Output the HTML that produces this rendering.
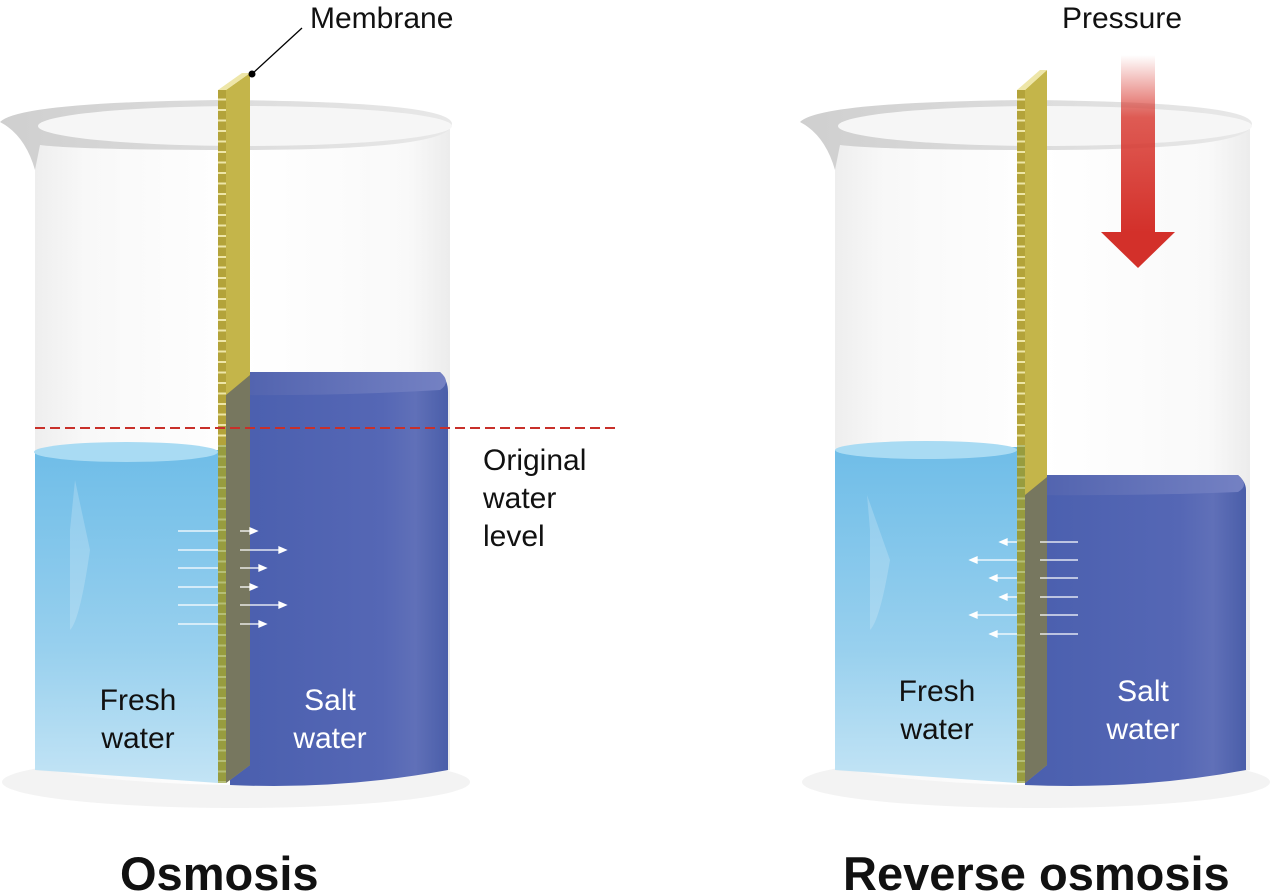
<!DOCTYPE html>
<html><head><meta charset="utf-8"><style>
html,body{margin:0;padding:0;background:#fff;}
svg{display:block;}
text{font-family:"Liberation Sans",sans-serif;}
</style></head><body>
<svg width="1280" height="893" viewBox="0 0 1280 893" xmlns="http://www.w3.org/2000/svg">
<defs>
<linearGradient id="glass" x1="0" x2="1">
<stop offset="0" stop-color="#eeeeee"/><stop offset="0.12" stop-color="#f8f8f8"/><stop offset="0.5" stop-color="#fff"/><stop offset="0.9" stop-color="#f9f9f9"/><stop offset="1" stop-color="#ececec"/>
</linearGradient>
<linearGradient id="rim" x1="0" x2="1">
<stop offset="0" stop-color="#cfcfcf"/><stop offset="0.5" stop-color="#dcdcdc"/><stop offset="1" stop-color="#e8e8e8"/>
</linearGradient>
<linearGradient id="fresh" x1="0" y1="0" x2="0" y2="1">
<stop offset="0" stop-color="#6fbde8"/><stop offset="0.6" stop-color="#98d0ee"/><stop offset="1" stop-color="#c3e4f5"/>
</linearGradient>
<linearGradient id="salt" x1="0" x2="1">
<stop offset="0" stop-color="#4a5fae"/><stop offset="0.7" stop-color="#5567b5"/><stop offset="0.85" stop-color="#6070b8"/><stop offset="1" stop-color="#4a5ea9"/>
</linearGradient>
<linearGradient id="saltTop" x1="0" x2="1">
<stop offset="0" stop-color="#4f61ad"/><stop offset="1" stop-color="#7481c3"/>
</linearGradient>
<linearGradient id="press" x1="0" y1="0" x2="0" y2="1">
<stop offset="0" stop-color="#d8342b" stop-opacity="0"/><stop offset="0.35" stop-color="#d8342b" stop-opacity="0.8"/><stop offset="1" stop-color="#d3302a"/>
</linearGradient>
<pattern id="dash" width="8" height="10.5" patternUnits="userSpaceOnUse">
<rect width="8" height="10.5" fill="#b3a33a"/><rect x="0" y="4" width="8" height="2" fill="#eee6a8"/>
</pattern>
</defs>

<!-- LEFT BEAKER -->
<g>
<ellipse cx="236" cy="782" rx="234" ry="26" fill="#f3f3f3"/>
<path d="M35 140 L35 770 Q240 800 450 770 L450 125 Z" fill="url(#glass)"/>
<path d="M0 122 Q20 102 226 100 Q452 102 452 124 Q452 150 240 150 Q80 150 40 145 L35 170 Q25 135 0 122 Z" fill="url(#rim)"/>
<ellipse cx="245" cy="126" rx="207" ry="20" fill="#f6f6f6"/>
<path d="M35 453 L218 450 L218 783 L35 770 Z" fill="url(#fresh)"/>
<ellipse cx="126" cy="452" rx="92" ry="10" fill="#a9dbf3"/>
<path d="M70 530 L75 480 L90 550 Q80 620 70 630 Z" fill="#fff" opacity="0.2"/>
<path d="M248 372 L440 372 Q448 380 448 392 L448 770 Q340 790 230 785 L230 395 Z" fill="url(#salt)"/>
<path d="M248 372 L440 372 Q452 382 440 390 Q340 396 230 395 Z" fill="url(#saltTop)"/>
<path d="M226 90 L250 73 L250 765 L226 783 Z" fill="#c4b54a"/>
<path d="M226 395 L250 375 L250 765 L226 783 Z" fill="#77775f"/>
<rect x="218" y="90" width="8" height="693" fill="url(#dash)"/>
<rect x="218" y="445" width="8" height="338" fill="#7b9544" opacity="0.5"/>
<path d="M218 90 L242 73 L250 73 L226 90 Z" fill="#eee6a8"/>
<line x1="252" y1="74" x2="302" y2="28" stroke="#000" stroke-width="1.3"/>
<circle cx="252" cy="74" r="3.5" fill="#000"/>
<g stroke="#fff" stroke-width="1.3" fill="#fff">
<line x1="178" y1="531" x2="218" y2="531"/><line x1="178" y1="550" x2="218" y2="550"/><line x1="178" y1="568" x2="218" y2="568"/>
<line x1="178" y1="587" x2="218" y2="587"/><line x1="178" y1="605" x2="218" y2="605"/><line x1="178" y1="624" x2="218" y2="624"/>
<line x1="240" y1="531" x2="252" y2="531"/><path d="M250 528 L257 531 L250 534Z"/>
<line x1="240" y1="550" x2="280" y2="550"/><path d="M279 547 L286 550 L279 553Z"/>
<line x1="240" y1="568" x2="262" y2="568"/><path d="M259 565 L266 568 L259 571Z"/>
<line x1="240" y1="587" x2="252" y2="587"/><path d="M250 584 L257 587 L250 590Z"/>
<line x1="240" y1="605" x2="280" y2="605"/><path d="M279 602 L286 605 L279 608Z"/>
<line x1="240" y1="624" x2="262" y2="624"/><path d="M259 621 L266 624 L259 627Z"/>
</g>
<line x1="35" y1="428" x2="615" y2="428" stroke="#c8302a" stroke-width="2" stroke-dasharray="10,5"/>
<text x="138" y="710" font-size="30" text-anchor="middle" fill="#111">Fresh</text>
<text x="138" y="748" font-size="30" text-anchor="middle" fill="#111">water</text>
<text x="330" y="710" font-size="30" text-anchor="middle" fill="#fff">Salt</text>
<text x="330" y="748" font-size="30" text-anchor="middle" fill="#fff">water</text>
</g>

<!-- RIGHT BEAKER -->
<g>
<ellipse cx="1036" cy="782" rx="234" ry="26" fill="#f3f3f3"/>
<path d="M835 140 L835 770 Q1040 800 1250 770 L1250 125 Z" fill="url(#glass)"/>
<path d="M800 122 Q820 102 1026 100 Q1252 102 1252 124 Q1252 150 1040 150 Q880 150 840 145 L835 170 Q825 135 800 122 Z" fill="url(#rim)"/>
<ellipse cx="1045" cy="126" rx="207" ry="20" fill="#f6f6f6"/>
<path d="M835 450 L1017 447 L1017 783 L835 770 Z" fill="url(#fresh)"/>
<ellipse cx="926" cy="450" rx="91" ry="9" fill="#a9dbf3"/>
<path d="M870 530 L867 495 L890 560 Q880 620 870 630 Z" fill="#fff" opacity="0.2"/>
<path d="M1047 475 L1238 475 Q1246 482 1246 490 L1246 770 Q1140 790 1025 785 L1025 495 Z" fill="url(#salt)"/>
<path d="M1047 475 L1238 475 Q1250 485 1238 492 Q1140 496 1025 495 Z" fill="url(#saltTop)"/>
<path d="M1025 90 L1047 70 L1047 765 L1025 783 Z" fill="#c4b54a"/>
<path d="M1025 495 L1047 477 L1047 765 L1025 783 Z" fill="#77775f"/>
<rect x="1017" y="90" width="8" height="693" fill="url(#dash)"/>
<rect x="1017" y="445" width="8" height="338" fill="#7b9544" opacity="0.5"/>
<path d="M1017 90 L1040 70 L1047 70 L1025 90 Z" fill="#eee6a8"/>
<g stroke="#fff" stroke-width="1.3" fill="#fff">
<line x1="1040" y1="542" x2="1078" y2="542"/><line x1="1040" y1="560" x2="1078" y2="560"/><line x1="1040" y1="578" x2="1078" y2="578"/>
<line x1="1040" y1="597" x2="1078" y2="597"/><line x1="1040" y1="615" x2="1078" y2="615"/><line x1="1040" y1="634" x2="1078" y2="634"/>
<line x1="1006" y1="542" x2="1017" y2="542"/><path d="M1007 539 L1000 542 L1007 545Z"/>
<line x1="976" y1="560" x2="1017" y2="560"/><path d="M977 557 L970 560 L977 563Z"/>
<line x1="996" y1="578" x2="1017" y2="578"/><path d="M997 575 L990 578 L997 581Z"/>
<line x1="1006" y1="597" x2="1017" y2="597"/><path d="M1007 594 L1000 597 L1007 600Z"/>
<line x1="976" y1="615" x2="1017" y2="615"/><path d="M977 612 L970 615 L977 618Z"/>
<line x1="996" y1="634" x2="1017" y2="634"/><path d="M997 631 L990 634 L997 637Z"/>
</g>
<rect x="1121" y="55" width="34" height="178" fill="url(#press)"/>
<path d="M1101 232 L1175 232 L1138 268 Z" fill="#d3302a"/>
<text x="937" y="701" font-size="30" text-anchor="middle" fill="#111">Fresh</text>
<text x="937" y="739" font-size="30" text-anchor="middle" fill="#111">water</text>
<text x="1143" y="701" font-size="30" text-anchor="middle" fill="#fff">Salt</text>
<text x="1143" y="739" font-size="30" text-anchor="middle" fill="#fff">water</text>
</g>

<text x="310" y="28" font-size="30" fill="#111">Membrane</text>
<text x="1062" y="28" font-size="30" fill="#111">Pressure</text>
<text x="483" y="470" font-size="30" fill="#111">Original</text>
<text x="483" y="508" font-size="30" fill="#111">water</text>
<text x="483" y="546" font-size="30" fill="#111">level</text>
<text x="120" y="890" font-size="47" font-weight="bold" fill="#111">Osmosis</text>
<text x="843" y="890" font-size="47" font-weight="bold" fill="#111">Reverse osmosis</text>
</svg>
</body></html>
